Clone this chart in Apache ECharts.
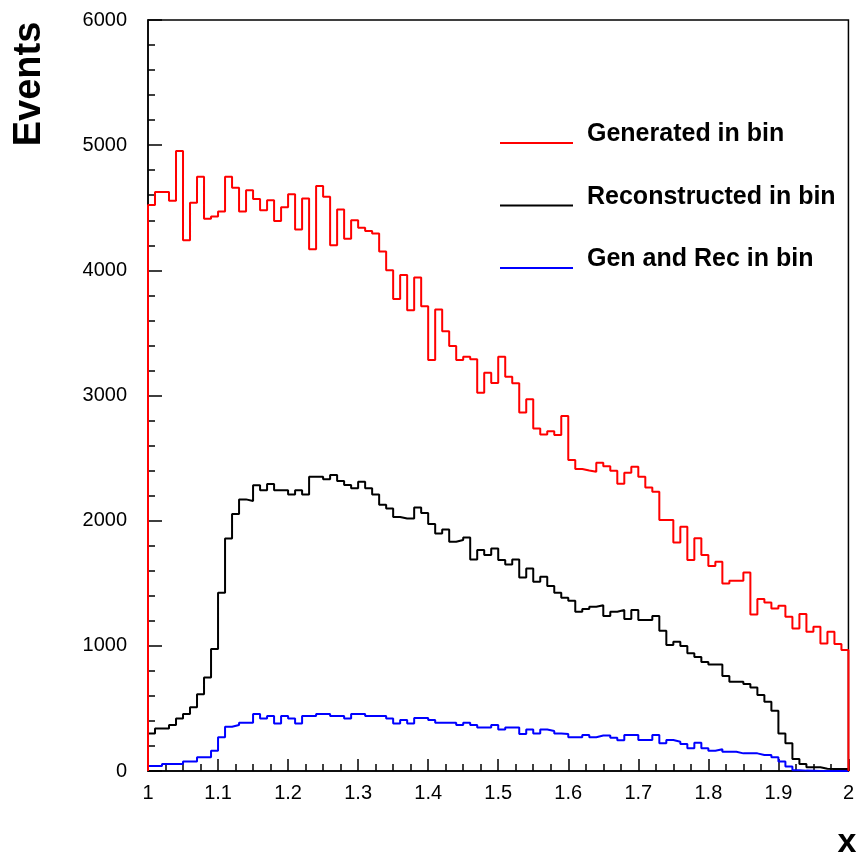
<!DOCTYPE html>
<html>
<head>
<meta charset="utf-8">
<title>Events vs x</title>
<script src="https://cdn.jsdelivr.net/npm/echarts@6/dist/echarts.min.js"></script>
<style>
  html, body { margin: 0; padding: 0; background: #fff; }
  #chart { width: 857px; height: 858px; }
</style>
</head>
<body>
<div id="chart"></div>
<script>
// histogram binning: 100 bins of width 0.01 from 1 to 2
const xMin = 1
const xMax = 2
const binWidth = 0.01

const seriesNames = ['Generated in bin', 'Reconstructed in bin', 'Gen and Rec in bin']

const generated = [
  4521, 4625, 4625, 4555, 4953, 4241, 4539, 4747, 4413, 4430,
  4470, 4747, 4660, 4470, 4640, 4569, 4480, 4560, 4395, 4504,
  4608, 4327, 4573, 4169, 4673, 4587, 4201, 4487, 4253, 4401,
  4340, 4315, 4295, 4150, 4000, 3770, 3962, 3682, 3943, 3714,
  3283, 3688, 3514, 3395, 3283, 3310, 3289, 3021, 3181, 3099,
  3310, 3150, 3097, 2865, 2971, 2737, 2689, 2715, 2684, 2836,
  2484, 2412, 2400, 2391, 2462, 2435, 2398, 2295, 2383, 2430,
  2350, 2265, 2231, 2005, 2005, 1826, 1951, 1686, 1859, 1725,
  1637, 1672, 1498, 1519, 1519, 1585, 1250, 1374, 1347, 1298,
  1320, 1232, 1138, 1254, 1112, 1152, 1019, 1112, 1014, 966
]

const reconstructed = [
  300, 339, 339, 367, 420, 455, 509, 613, 748, 974,
  1424, 1858, 2053, 2170, 2157, 2282, 2244, 2292, 2244, 2244,
  2210, 2244, 2210, 2351, 2351, 2330, 2364, 2316, 2284, 2258,
  2311, 2258, 2210, 2127, 2097, 2030, 2017, 2017, 2105, 2061,
  1973, 1898, 1930, 1831, 1845, 1866, 1690, 1765, 1725, 1778,
  1685, 1650, 1690, 1546, 1618, 1512, 1551, 1478, 1424, 1384,
  1360, 1272, 1294, 1312, 1325, 1238, 1272, 1286, 1215, 1286,
  1206, 1206, 1238, 1120, 1006, 1032, 998, 940, 911, 871,
  851, 851, 759, 713, 713, 695, 668, 607, 553, 482,
  300, 221, 96, 56, 30, 30, 18, 15, 15, 15
]

const genAndRec = [
  40, 40, 56, 56, 56, 75, 75, 109, 109, 162,
  269, 354, 367, 386, 386, 455, 420, 439, 380, 439,
  420, 380, 439, 439, 455, 455, 439, 439, 420, 455,
  455, 439, 439, 439, 420, 380, 407, 380, 424, 424,
  407, 386, 386, 386, 367, 386, 367, 348, 348, 367,
  332, 348, 348, 295, 332, 300, 332, 320, 300, 295,
  269, 269, 288, 269, 284, 284, 265, 245, 288, 288,
  248, 248, 288, 221, 248, 234, 216, 181, 226, 181,
  162, 173, 154, 154, 141, 141, 141, 128, 128, 109,
  75, 35, 5, 3, 2, 1, 0, 0, 0, 0
]

const colors = ['#ff0000', '#000000', '#0000ff']
const fontFamily = '"Liberation Sans", Arial, sans-serif'

// turn bin contents into a closed ROOT-style outline: up at xMin, down at xMax
function histPoints(values) {
  const pts = [[xMin, 0]]
  values.forEach((v, i) => {
    pts.push([+(xMin + i * binWidth).toFixed(4), v])
  })
  pts.push([xMax, values[values.length - 1]])
  pts.push([xMax, 0])
  return pts
}

const chart = echarts.init(document.getElementById('chart'))

chart.setOption({
  animation: false,
  grid: {
    left: 148,
    right: 5,
    top: 20,
    bottom: 87,
    show: true,
    borderColor: '#000',
    borderWidth: 1.5,
    backgroundColor: 'transparent'
  },
  legend: {
    data: seriesNames,
    orient: 'vertical',
    left: 495,
    top: 117,
    // line sits at the bottom of the icon box, so it lines up with the text baseline
    icon: 'path://M0,0L0.01,0M0,17L73,17L73,19L0,19Z',
    itemWidth: 73,
    itemHeight: 20,
    itemGap: 37.5,
    itemStyle: { borderWidth: 0 },
    textStyle: {
      fontFamily: fontFamily,
      fontSize: 25,
      fontWeight: 'bold',
      color: '#000',
      padding: [0, 0, 0, 9]
    }
  },
  xAxis: {
    type: 'value',
    min: xMin,
    max: xMax,
    interval: 0.1,
    axisLine: { lineStyle: { color: '#000', width: 1.5 } },
    axisTick: { inside: true, length: 12, lineStyle: { color: '#000', width: 1.5 } },
    minorTick: { show: true, splitNumber: 4, length: 7, lineStyle: { color: '#000', width: 1.5 } },
    splitLine: { show: false },
    axisLabel: {
      margin: 12,
      color: '#000',
      fontFamily: fontFamily,
      fontSize: 20
    }
  },
  yAxis: {
    type: 'value',
    min: 0,
    max: 6000,
    interval: 1000,
    axisLine: { lineStyle: { color: '#000', width: 1.5 } },
    axisTick: { inside: true, length: 14, lineStyle: { color: '#000', width: 1.5 } },
    minorTick: { show: true, splitNumber: 5, length: 7, lineStyle: { color: '#000', width: 1.5 } },
    splitLine: { show: false },
    axisLabel: {
      margin: 21,
      color: '#000',
      fontFamily: fontFamily,
      fontSize: 20,
      formatter: v => String(v)
    }
  },
  graphic: [
    {
      type: 'text',
      x: 30,
      y: 84,
      rotation: Math.PI / 2,
      style: {
        text: 'Events',
        font: 'bold 38px ' + fontFamily,
        fill: '#000',
        textAlign: 'center',
        textVerticalAlign: 'middle'
      }
    },
    {
      type: 'text',
      x: 847,
      y: 843,
      style: {
        text: 'x',
        font: 'bold 34px ' + fontFamily,
        fill: '#000',
        textAlign: 'center',
        textVerticalAlign: 'middle'
      }
    }
  ],
  series: [generated, reconstructed, genAndRec].map((vals, k) => ({
    name: seriesNames[k],
    type: 'line',
    step: 'end',
    symbol: 'none',
    color: colors[k],
    lineStyle: { color: colors[k], width: 2 },
    data: histPoints(vals),
    z: 3 - k
  }))
})
</script>
</body>
</html>
